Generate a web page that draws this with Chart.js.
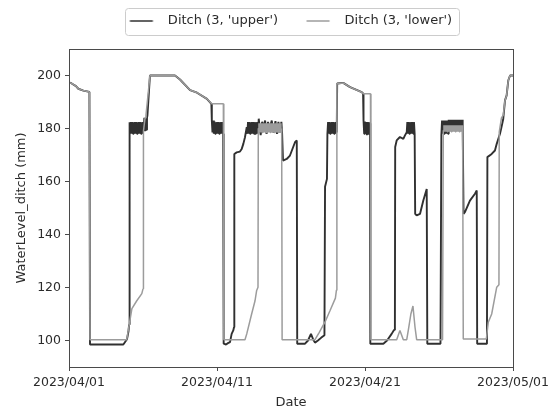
<!DOCTYPE html>
<html>
<head>
<meta charset="utf-8">
<script src="https://cdn.jsdelivr.net/npm/chart.js@4.4.1/dist/chart.umd.min.js"></script>
<style>
  html, body { margin: 0; padding: 0; background: #fff; }
</style>
</head>
<body>
<canvas id="chart" width="560" height="410"></canvas>
<script>
// days since 2023/04/01 on the x axis
const xTickDays = [0, 10, 20, 30];
const xTickLabels = ['2023/04/01', '2023/04/11', '2023/04/21', '2023/05/01'];
const yTickValues = [100, 120, 140, 160, 180, 200];
const seriesNames = ["Ditch (3, 'upper')", "Ditch (3, 'lower')"];

const upperDays = [
  0, 0.18, 0.47, 0.63, 0.97, 1.38, 1.42, 3.67, 3.92, 4.02, 4.06, 4.09,
  4.10, 4.145, 4.19, 4.235, 4.28, 4.325, 4.37, 4.415, 4.46, 4.505, 4.55, 4.595, 4.64, 4.685, 4.73, 4.775, 4.82, 4.865, 4.91, 4.955, 5.00,
  5.045, 5.09, 5.135, 5.18, 5.225, 5.27,
  5.30, 5.47, 7.16, 7.50, 8.18, 8.65, 9.32, 9.62,
  9.65, 9.695, 9.74, 9.785, 9.83, 9.875, 9.92, 9.965, 10.01, 10.055, 10.10, 10.145, 10.19, 10.235, 10.28, 10.325, 10.37, 10.415,
  10.45, 10.61, 10.74, 10.88, 10.99, 11.10, 11.15, 11.17, 11.33, 11.55, 11.67, 11.78, 11.89, 12.01,
  12.05, 12.095, 12.14, 12.185, 12.23, 12.275, 12.32, 12.365, 12.41, 12.455, 12.50, 12.545, 12.59, 12.635, 12.68, 12.725, 12.77,
  12.82, 12.95, 13.05, 13.15, 13.25, 13.35, 13.45, 13.55, 13.70, 13.80, 13.95, 14.05, 14.15, 14.25, 14.35, 14.40,
  14.46, 14.71, 14.93, 15.27, 15.39, 15.42, 15.95, 16.15, 16.35, 16.49, 16.62, 16.82, 17.03, 17.26, 17.30, 17.43,
  17.46, 17.505, 17.55, 17.595, 17.64, 17.685, 17.73, 17.775, 17.82, 17.865, 17.91, 17.955, 18.00, 18.045, 18.09,
  18.12, 18.53, 18.99, 19.78, 19.87,
  19.90, 19.945, 19.99, 20.035, 20.08, 20.125, 20.17, 20.215, 20.26, 20.30, 20.34,
  20.36, 21.24, 21.49, 21.80, 21.96, 22.02, 22.04, 22.14, 22.36, 22.59, 22.70, 22.82,
  22.86, 22.905, 22.95, 22.995, 23.04, 23.085, 23.13, 23.175, 23.22, 23.265, 23.31, 23.355,
  23.39, 23.49, 23.72, 23.94, 24.17, 24.21, 25.10, 25.16,
  25.205, 25.25, 25.295, 25.34, 25.385, 25.43, 25.475, 25.52, 25.565, 25.61,
  25.655, 25.70, 25.745, 25.79, 25.835, 25.88, 25.925, 25.97, 26.015, 26.06, 26.105,
  26.15, 26.195, 26.24, 26.285, 26.33, 26.375, 26.42, 26.465, 26.51, 26.555, 26.60,
  26.66, 26.76, 27.09, 27.43, 27.55, 27.58, 28.24, 28.27, 28.56, 28.78, 28.90,
  29.12, 29.22, 29.34, 29.46, 29.57, 29.68, 29.80, 30
];
const upperLevels = [
  197.4, 197, 196, 195, 194.3, 193.8, 98.5, 98.5, 100.5, 103.5, 106, 177.5,
  182.4, 178, 182.4, 178, 182.4, 178, 182.4, 178, 182.4, 178, 182.4, 178, 182.4, 178, 182.4, 178, 182.4, 178, 182.4, 178, 182.4,
  179, 184, 179, 184, 179.5, 184,
  185, 200, 200, 198.5, 194.5, 193.5, 191.2, 189.3,
  183, 178.5, 183, 178, 182.6, 178, 182.4, 178, 182.4, 178, 182.4, 178, 182.4, 178, 182.4, 178, 182.4, 178,
  98.8, 98.5, 99, 99.4, 102.5, 103.8, 105, 170.4, 171, 171.3, 172.3, 174.2, 176.7, 180.5,
  178, 182.4, 178, 182.4, 178, 182.4, 178, 182.4, 178, 182.4, 178, 182.4, 178, 182.4, 178, 182.4, 178,
  183.7, 177.5, 182.5, 180.5, 183, 178, 182.5, 180, 183, 178.5, 182.8, 178, 182.5, 178.5, 182.5, 178,
  167.9, 168.5, 169.8, 174.8, 175.5, 98.8, 98.8, 100, 102.5, 100.5, 99.2, 100, 101, 102, 158, 161,
  178, 182.4, 178, 182.4, 178, 182.4, 178, 182.4, 178, 182.4, 178, 182.4, 178, 182.4, 178.5,
  197, 197.2, 195.6, 193.7, 193.2,
  183, 178, 182.6, 178, 182.4, 177.5, 182.4, 178, 182.4, 178, 182,
  98.8, 98.8, 100, 102.5, 104, 106, 173, 175.5, 176.8, 176.1, 177.4, 178.6,
  182.4, 178, 182.4, 178, 182.4, 178, 182.4, 178, 182.4, 178, 182.4, 178,
  147.8, 147.2, 147.8, 152.8, 157.2, 98.8, 98.8, 177.4,
  183, 178, 183, 178, 183, 178, 183, 178, 183, 178,
  183.3, 180.5, 183.3, 180.5, 183.3, 180.5, 183.3, 180.5, 183.3, 180.5, 183.3,
  180.5, 183.3, 180.5, 183.3, 180.5, 183.3, 180.5, 183.3, 180.5, 183.3, 180.5,
  147.8, 148.5, 152.8, 155.4, 156.6, 98.8, 98.8, 169.2, 170.4, 171.7, 174.2,
  178, 180.5, 183.6, 190.6, 192.5, 198.1, 200, 200
];

const lowerDays = [
  0, 0.18, 0.47, 0.63, 0.97, 1.38, 1.42, 3.90, 4.10, 4.25, 4.58, 4.92,
  5.00, 5.03, 5.14, 5.20, 5.47, 7.16, 7.50, 8.18, 8.65, 9.32, 9.64, 10.43,
  10.46, 11.89, 12.01, 12.34, 12.57, 12.68, 12.77, 12.79,
  12.835, 12.88, 12.925, 12.97, 13.015, 13.06, 13.105, 13.15, 13.195, 13.24, 13.285, 13.33,
  13.375, 13.42, 13.465, 13.51, 13.555, 13.60, 13.645, 13.69, 13.735, 13.78, 13.825, 13.87,
  13.915, 13.96, 14.005, 14.05, 14.095, 14.14, 14.185, 14.23, 14.275, 14.32,
  14.37, 14.40, 16.62, 16.90, 17.30, 17.64, 18.00, 18.07, 18.10, 18.53, 18.99, 19.78, 19.89,
  20.37, 20.40, 22.14, 22.36, 22.59, 22.82, 22.93, 23.10, 23.24, 23.38, 23.49, 25.24, 25.29,
  25.335, 25.38, 25.425, 25.47, 25.515, 25.56, 25.605, 25.65, 25.695, 25.74, 25.785, 25.83,
  25.875, 25.92, 25.965, 26.01, 26.055, 26.10, 26.145, 26.19, 26.235, 26.28, 26.325, 26.37,
  26.415, 26.46, 26.505, 26.55, 26.595,
  26.64, 28.20, 28.33, 28.56, 28.90, 29.05, 29.07, 29.22, 29.34, 29.46, 29.57, 29.68, 29.80, 30
];
const lowerLevels = [
  197.4, 197, 196, 195, 194.3, 193.8, 100.3, 100.3, 107, 112, 115, 117.7,
  119.5, 179, 184, 185, 200, 200, 198.5, 194.5, 193.5, 191.2, 189.3, 189.3,
  100.3, 100.3, 102.5, 110, 115, 118.9, 120.1, 180,
  182, 178.5, 182, 178.5, 182, 178.5, 182, 178.5, 182, 178.5, 182, 178.5,
  182, 178.5, 182, 178.5, 182, 178.5, 182, 178.5, 182, 178.5, 182, 178.5,
  182, 178.5, 182, 178.5, 182, 178.5, 182, 178.5, 182, 178.5,
  180, 100.3, 100.3, 103, 107, 111.3, 116, 119, 196.9, 197.2, 195.6, 193.7, 193.1,
  193.1, 100.3, 100.3, 103.8, 100.3, 100.3, 104, 110, 113, 105, 100.3, 100.3, 179.2,
  181.2, 178.8, 181.2, 178.8, 181.2, 178.8, 181.2, 178.8, 181.2, 178.8, 181.2, 178.8,
  181.2, 178.8, 181.2, 178.8, 181.2, 178.8, 181.2, 178.8, 181.2, 178.8, 181.2, 178.8,
  181.2, 178.8, 181.2, 178.8, 181.2,
  100.6, 100.6, 106.9, 110, 120.1, 121, 178.6, 184, 185, 190.6, 192.5, 198.1, 200, 200
];

const toPoints = (days, levels) => days.map((d, i) => ({ x: d, y: levels[i] }));

Chart.defaults.font.family = 'DejaVu Sans';
Chart.defaults.color = '#2b2b2b';

// short line sample for the legend, drawn a bit right of centre
function legendLine(color, width) {
  const c = document.createElement('canvas');
  c.width = 40;
  c.height = 4;
  const g = c.getContext('2d');
  g.strokeStyle = color;
  g.lineWidth = Math.min(width, 1.5);
  g.beginPath();
  g.moveTo(13.5, 2);
  g.lineTo(36.5, 2);
  g.stroke();
  return c;
}

// extra space between legend and plot
const legendGap = {
  id: 'legendGap',
  beforeInit(chart) {
    const fit = chart.legend.fit;
    chart.legend.fit = function () {
      fit.call(this);
      this.height += 11.5;
    };
  }
};

// axes frame and legend box
const frame = {
  id: 'frame',
  afterDraw(chart) {
    const { ctx, chartArea: a, legend } = chart;
    ctx.save();
    ctx.strokeStyle = '#4a4a4a';
    ctx.lineWidth = 1;
    const l = Math.round(a.left) + 0.5, t = Math.round(a.top) + 0.5;
    const r = Math.round(a.right) + 0.5, b = Math.round(a.bottom) + 0.5;
    ctx.strokeRect(l, t, r - l, b - t);

    const hb = legend.legendHitBoxes;
    if (hb && hb.length) {
      const first = hb[0], last = hb[hb.length - 1];
      const cy = first.top + first.height / 2;
      const left = Math.round(first.left + 13.5) + 0.5;
      const right = Math.round(last.left + last.width + 7) + 0.5;
      ctx.strokeStyle = '#cccccc';
      ctx.beginPath();
      ctx.roundRect(left, Math.round(cy - 13) + 0.5, right - left, 27, 3);
      ctx.stroke();
    }
    ctx.restore();
  }
};

new Chart(document.getElementById('chart'), {
  type: 'line',
  data: {
    datasets: [
      {
        label: seriesNames[0],
        data: toPoints(upperDays, upperLevels),
        borderColor: '#303030',
        borderWidth: 1.9,
        order: 1
      },
      {
        label: seriesNames[1],
        data: toPoints(lowerDays, lowerLevels),
        borderColor: '#9c9c9c',
        borderWidth: 1.5,
        order: 0
      }
    ]
  },
  options: {
    responsive: false,
    animation: false,
    elements: {
      point: { radius: 0 },
      line: { tension: 0, fill: false, borderJoinStyle: 'bevel' }
    },
    layout: { padding: { left: 3.5, right: 0, top: 4.5, bottom: 0 } },
    plugins: {
      tooltip: { enabled: false },
      legend: {
        position: 'top',
        labels: {
          usePointStyle: true,
          pointStyleWidth: 50,
          padding: 10,
          font: { size: 13 },
          sort: (a, b) => a.datasetIndex - b.datasetIndex,
          generateLabels(chart) {
            return Chart.defaults.plugins.legend.labels.generateLabels(chart).map(item => {
              item.pointStyle = legendLine(item.strokeStyle, item.lineWidth);
              return item;
            });
          }
        }
      }
    },
    scales: {
      x: {
        type: 'linear',
        min: 0,
        max: 30,
        afterBuildTicks: scale => { scale.ticks = xTickDays.map(v => ({ value: v })); },
        afterFit: scale => { scale.height = 43; scale.paddingRight = 47; },
        ticks: {
          autoSkip: false,
          maxRotation: 0,
          padding: 4,
          font: { size: 12.5 },
          callback: (value, index) => xTickLabels[index]
        },
        grid: { drawOnChartArea: false, tickLength: 4, color: '#4a4a4a' },
        border: { display: false },
        title: { display: true, text: 'Date', font: { size: 13 }, padding: 0 }
      },
      y: {
        min: 90,
        max: 210,
        afterBuildTicks: scale => { scale.ticks = yTickValues.map(v => ({ value: v })); },
        afterFit: scale => { scale.width = 65.5; },
        ticks: { padding: 4, font: { size: 12.5 } },
        grid: { drawOnChartArea: false, tickLength: 4, color: '#4a4a4a' },
        border: { display: false },
        title: {
          display: true,
          text: 'WaterLevel_ditch (mm)',
          font: { size: 13 },
          padding: { top: 10, bottom: 0 }
        }
      }
    }
  },
  plugins: [legendGap, frame]
});
</script>
</body>
</html>
